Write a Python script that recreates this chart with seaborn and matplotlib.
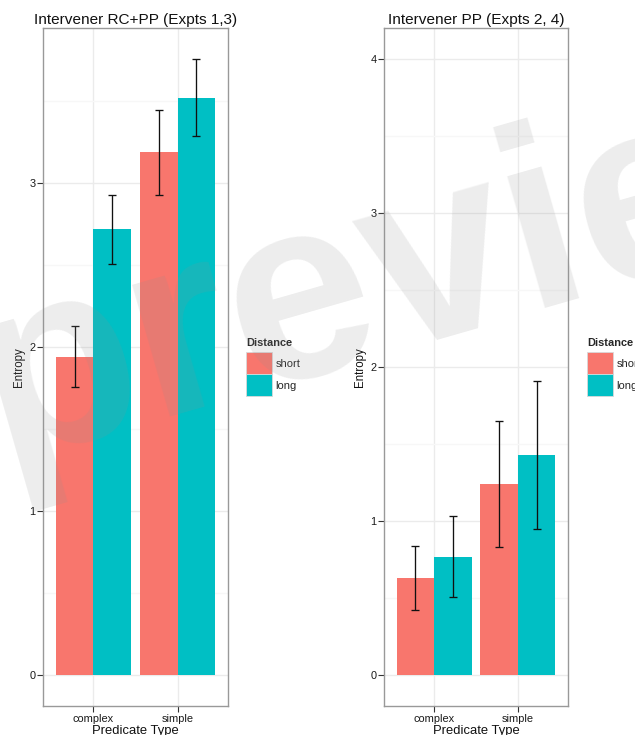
import matplotlib
matplotlib.use("Agg")
import matplotlib.pyplot as plt
import matplotlib.patches as mpatches
import numpy as np
import pandas as pd
import seaborn as sns

# Mean entropy per predicate type and distance, with error-bar bounds
predicates = ["complex", "simple"]
distances = ["short", "long"]

rcpp_mean = {"short": [1.94, 3.19], "long": [2.72, 3.52]}
rcpp_low = {"short": [1.76, 2.93], "long": [2.51, 3.29]}
rcpp_high = {"short": [2.13, 3.45], "long": [2.93, 3.76]}

pp_mean = {"short": [0.63, 1.24], "long": [0.77, 1.43]}
pp_low = {"short": [0.42, 0.83], "long": [0.51, 0.95]}
pp_high = {"short": [0.84, 1.65], "long": [1.03, 1.91]}

titles = ["Intervener RC+PP (Expts 1,3)", "Intervener PP (Expts 2, 4)"]
palette = ["#F8766D", "#00BFC4"]

sns.set_theme(style="white")
plt.rcParams["font.family"] = ["Liberation Sans", "DejaVu Sans"]


def make_frame(mean, low, high):
    rows = []
    for d in distances:
        for i, p in enumerate(predicates):
            rows.append({"Predicate Type": p, "Distance": d,
                         "Entropy": mean[d][i], "low": low[d][i], "high": high[d][i]})
    return pd.DataFrame(rows)


fig = plt.figure(figsize=(6.35, 7.35), dpi=100)
W, H = 635, 735


def px_axes(x0, y0, x1, y1):
    return fig.add_axes([x0 / W, (H - y1) / H, (x1 - x0) / W, (y1 - y0) / H])


panels = [
    (px_axes(43, 28, 228, 706), make_frame(rcpp_mean, rcpp_low, rcpp_high),
     (-0.188, 3.948), [0, 1, 2, 3], 246),
    (px_axes(384, 28, 568, 706), make_frame(pp_mean, pp_low, pp_high),
     (-0.2, 4.2), [0, 1, 2, 3, 4], 587),
]

for (ax, df, ylim, yticks, leg_x), title in zip(panels, titles):
    sns.barplot(data=df, x="Predicate Type", y="Entropy", hue="Distance",
                order=predicates, hue_order=distances, palette=palette,
                width=0.9, gap=0, saturation=1, errorbar=None, linewidth=0,
                legend=False, ax=ax, zorder=2)

    # error bars centred on each bar
    for d, cont in zip(distances, ax.containers):
        sub = df[df["Distance"] == d].set_index("Predicate Type").loc[predicates]
        xs = [b.get_x() + b.get_width() / 2 for b in cont]
        hs = sub["Entropy"].to_numpy()
        yerr = [hs - sub["low"].to_numpy(), sub["high"].to_numpy() - hs]
        ax.errorbar(xs, hs, yerr=yerr, fmt="none", ecolor="#111111",
                    elinewidth=0.95, capsize=3.2, capthick=0.95, zorder=3)

    ax.set_xlim(-0.6, 1.6)
    ax.set_ylim(*ylim)
    ax.set_yticks(yticks)
    ax.set_yticks(np.arange(0.5, ylim[1], 1.0), minor=True)
    ax.set_axisbelow(True)
    ax.grid(which="major", color="#ebebeb", linewidth=1.0, zorder=0)
    ax.grid(which="minor", axis="y", color="#f7f7f7", linewidth=1.0, zorder=0)
    for s in ax.spines.values():
        s.set_visible(True)
        s.set_color("#999999")
        s.set_linewidth(1.0)
    ax.tick_params(axis="both", which="major", direction="out", length=4,
                   width=0.8, color="#333333", labelsize=7.9,
                   labelcolor="#1a1a1a", pad=1.5, left=True, bottom=True)
    ax.tick_params(axis="both", which="minor", length=0)
    ax.set_xlabel("Predicate Type", fontsize=9.4, labelpad=1, color="#111111")
    ax.set_ylabel("Entropy", fontsize=8.3, labelpad=3, color="#111111")
    ax.set_title(title, fontsize=11.1, pad=3, color="#111111")

    handles = [mpatches.Patch(facecolor=c, edgecolor="#d9d9d9", linewidth=0.6, label=d)
               for c, d in zip(palette, distances)]
    leg = fig.legend(handles=handles, title="Distance", loc="upper left",
                     bbox_to_anchor=(leg_x / W, (H - 338) / H),
                     frameon=False, fontsize=8.0, title_fontsize=7.9,
                     handlelength=2.35, handleheight=2.67, labelspacing=0.0,
                     handletextpad=0.3, borderpad=0, borderaxespad=0,
                     alignment="left")
    leg.get_title().set_fontweight("bold")
    leg._legend_box.sep = 3

# faint "preview" stamp across the figure
fig.text(1 / W, (H - 460) / H, "preview", fontsize=187, fontweight="bold",
         family="Liberation Sans", color="#909090", alpha=0.16,
         rotation=16, rotation_mode="anchor", ha="left", va="baseline", zorder=10)

fig.savefig("out.png", dpi=100)
